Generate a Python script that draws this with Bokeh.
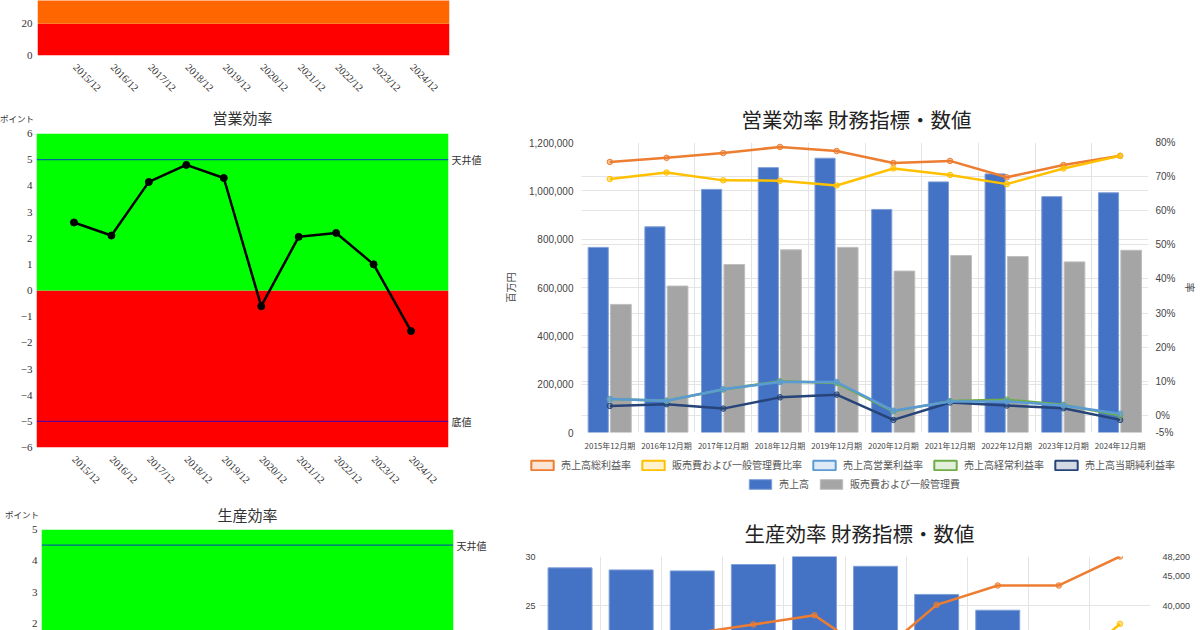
import math
from bokeh.plotting import figure
from bokeh.models import (FactorRange, Range1d, LinearAxis, FixedTicker, SingleIntervalTicker,
                          BoxAnnotation, Span, Legend, LegendItem, NumeralTickFormatter,
                          PrintfTickFormatter, ColumnDataSource, Grid, Div)
from bokeh.transform import dodge
from bokeh.layouts import row, column
from bokeh.embed import file_html
from bokeh.resources import INLINE

# ---------------- data ----------------
years = ["2015/12", "2016/12", "2017/12", "2018/12", "2019/12",
         "2020/12", "2021/12", "2022/12", "2023/12", "2024/12"]
periods = ["2015年12月期", "2016年12月期", "2017年12月期", "2018年12月期", "2019年12月期",
           "2020年12月期", "2021年12月期", "2022年12月期", "2023年12月期", "2024年12月期"]

# top chart (scrolled mostly out of view)
top_zone_edges = [0, 20, 40]
top_zone_colors = ["#FF0000", "#FF6600"]
top_ticks = [0, 20]

# 営業効率
sales_eff_points = [2.6, 2.1, 4.15, 4.8, 4.3, -0.6, 2.05, 2.2, 1.0, -1.55]
sales_eff_ticks = [-6, -5, -4, -3, -2, -1, 0, 1, 2, 3, 4, 5, 6]
sales_eff_zone_edges = [-6, 0, 6]
sales_eff_zone_colors = ["#FF0000", "#00FF00"]
sales_eff_refs = [5, -5]
sales_eff_ref_names = ["天井値", "底値"]

# 生産効率
prod_eff_ticks = [2, 3, 4, 5]
prod_eff_zone_edges = [0, 5]
prod_eff_zone_colors = ["#00FF00"]
prod_eff_refs = [4.5]
prod_eff_ref_names = ["天井値"]

# 営業効率 財務指標・数値 (百万円 / %)
sales = [766000, 851000, 1006000, 1096000, 1135000, 923000, 1037000, 1070000, 976000, 992000]
sga = [530000, 606000, 695000, 756000, 766000, 668000, 732000, 728000, 706000, 754000]
gross_margin = [74.3, 75.5, 76.9, 78.7, 77.5, 74.0, 74.6, 69.8, 73.4, 76.1]
sga_ratio = [69.3, 71.2, 68.9, 68.8, 67.4, 72.4, 70.5, 67.8, 72.4, 76.1]
op_margin = [4.8, 4.3, 7.7, 9.8, 9.8, 1.4, 4.1, 4.1, 2.9, 0.5]
ord_margin = [4.8, 4.3, 7.6, 10.0, 9.5, 1.2, 4.2, 4.6, 3.1, 0.0]
net_margin = [2.8, 3.3, 2.0, 5.3, 6.1, -1.3, 3.8, 2.9, 2.1, -1.3]
amount_interval = 200000
pct_ticks = [-5, 0, 10, 20, 30, 40, 50, 60, 70, 80]

# 生産効率 財務指標・数値
prod_bars = [28.84, 28.63, 28.53, 29.18, 30.0, 29.0, 26.13, 24.52, 22.2, 21.6]
prod_line1 = [34800, 35100, 35370, 36870, 38420, 31500, 40140, 43370, 43370, 48200]
prod_line2 = [27500, 27800, 28300, 28900, 29400, 26500, 28600, 29800, 28100, 36980]
prod_left_ticks = [20, 25, 30]
prod_right_ticks = [35000, 40000, 45000, 48200]

JP = "Noto Sans CJK JP"
SERIF = "Liberation Serif"
SANS = "Liberation Sans"
NAN = float("nan")


def base_fig(width, height, x_range, y_range, bl, br, bt, bb, **kw):
    p = figure(width=width, height=height, x_range=x_range, y_range=y_range,
               output_backend="svg", toolbar_location=None, frame_align=False,
               min_border_left=bl, min_border_right=br, min_border_top=bt, min_border_bottom=bb,
               **kw)
    p.outline_line_color = None
    return p


def style_axis(axes, font, size, color="#333", standoff=4):
    for ax in axes:
        ax.axis_line_color = None
        ax.major_tick_line_color = None
        ax.minor_tick_line_color = None
        ax.major_tick_out = 0
        ax.major_tick_in = 0
        ax.minor_tick_out = 0
        ax.major_label_text_font = font
        ax.major_label_text_font_size = size
        ax.major_label_text_color = color
        ax.major_label_standoff = standoff


def add_zones(p, edges, colors):
    for lo, hi, c in zip(edges[:-1], edges[1:], colors):
        p.add_layout(BoxAnnotation(bottom=lo, top=hi, fill_color=c, fill_alpha=1,
                                   line_color=None, level="underlay"))


def add_refs(p, refs, names):
    for v in refs:
        p.add_layout(Span(location=v, dimension="width", line_color="#0000FF",
                          line_alpha=0.6, line_width=1.2))
    ax = LinearAxis(ticker=FixedTicker(ticks=refs),
                    major_label_overrides={v: n for v, n in zip(refs, names)})
    p.add_layout(ax, "right")
    style_axis([ax], JP, "10px", "#333", 3)


def point_div(top, left):
    return Div(text="ポイント", width=45, height=14, margin=(top, 0, -(top + 14), left),
               styles={"font-family": JP, "font-size": "8.5px", "color": "#333",
                       "line-height": "14px", "white-space": "nowrap",
                       "position": "relative", "z-index": "5"})


def year_range():
    return FactorRange(*years, range_padding=0.5, range_padding_units="absolute")


def style_title(p, text, size, align, offset, standoff, color="#333", valign="bottom"):
    p.title.text = text
    p.title.align = align
    p.title.offset = offset
    p.title.vertical_align = valign
    p.title.text_font = JP
    p.title.text_font_size = size
    p.title.text_font_style = "normal"
    p.title.text_color = color
    p.title.standoff = standoff


# ---------------- top (partial) chart ----------------
pA = base_fig(500, 102, year_range(), Range1d(0, 34.7), 37, 51, 0, 47)
pA.grid.visible = False
add_zones(pA, top_zone_edges, top_zone_colors)
pA.yaxis.ticker = FixedTicker(ticks=top_ticks)
style_axis(pA.yaxis, SERIF, "11px", "#333", 5)
style_axis(pA.xaxis, SERIF, "10.5px", "#333", 10)
pA.xaxis.major_label_orientation = -math.pi / 4

# ---------------- 営業効率 ----------------
pB = base_fig(500, 398, year_range(), Range1d(sales_eff_zone_edges[0], sales_eff_zone_edges[-1]),
              36, 52, 31, 53)
pB.grid.visible = False
add_zones(pB, sales_eff_zone_edges, sales_eff_zone_colors)
add_refs(pB, sales_eff_refs, sales_eff_ref_names)
pB.line(years, sales_eff_points, line_color="black", line_width=2.5)
pB.scatter(years, sales_eff_points, size=7, color="black")
pB.yaxis[0].ticker = FixedTicker(ticks=sales_eff_ticks)
style_axis([pB.yaxis[0]], SERIF, "11px", "#333", 4)
style_axis(pB.xaxis, SERIF, "10.5px", "#333", 10)
pB.xaxis.major_label_orientation = -math.pi / 4
style_title(pB, "営業効率", "15px", "center", 0, 7, valign="top")

# ---------------- 生産効率 ----------------
pC = base_fig(500, 130, year_range(), Range1d(1.77, prod_eff_zone_edges[-1]), 41, 47, 29, 0)
pC.grid.visible = False
add_zones(pC, prod_eff_zone_edges, prod_eff_zone_colors)
add_refs(pC, prod_eff_refs, prod_eff_ref_names)
pC.yaxis[0].ticker = FixedTicker(ticks=prod_eff_ticks)
style_axis([pC.yaxis[0]], SERIF, "11px", "#333", 4)
pC.xaxis.visible = False
style_title(pC, "生産効率", "15px", "center", 0, 5, valign="top")

# ---------------- 営業効率 財務指標・数値 ----------------
GRID = "#E4E4E4"
src = ColumnDataSource(dict(period=periods, sales=sales, sga=sga, gm=gross_margin,
                            sr=sga_ratio, om=op_margin, orm=ord_margin, nm=net_margin))
pD = base_fig(700, 455, FactorRange(*periods), Range1d(0, 1200000), 78, 47, 142, 23)
pD.extra_y_ranges = {"pct": Range1d(pct_ticks[0], pct_ticks[-1])}
amount_ticker = SingleIntervalTicker(interval=amount_interval, num_minor_ticks=0)
pD.yaxis[0].ticker = amount_ticker
pD.ygrid.ticker = amount_ticker
pD.ygrid.grid_line_color = GRID
pD.xgrid.ticker = FixedTicker(ticks=list(range(len(periods) + 1)))
pD.xgrid.grid_line_color = GRID
pct_ticker = FixedTicker(ticks=pct_ticks)
pD.add_layout(Grid(dimension=1, ticker=pct_ticker, y_range_name="pct", grid_line_color=GRID))

pD.vbar(x=dodge("period", -0.205, range=pD.x_range), top="sales", width=0.355,
        source=src, fill_color="#4472C4", line_color="#7F9FD8", line_width=1)
pD.vbar(x=dodge("period", 0.195, range=pD.x_range), top="sga", width=0.365,
        source=src, fill_color="#A5A5A5", line_color="#BDBDBD", line_width=1)

line_specs = [("gm", "#ED7D31"), ("sr", "#FFC000"), ("nm", "#264478"),
              ("orm", "#70AD47"), ("om", "#5B9BD5")]
for col, c in line_specs:
    pD.line("period", col, source=src, y_range_name="pct", line_color=c, line_width=2.5)
    pD.scatter("period", col, source=src, y_range_name="pct", size=5.5,
               fill_color=c, fill_alpha=0.45, line_color=c, line_width=1)

style_axis(pD.xaxis, JP, "8px", "#444", 7)
style_axis([pD.yaxis[0]], SANS, "10px", "#444", 8)
pD.yaxis[0].formatter = NumeralTickFormatter(format="0,0")
pD.yaxis[0].axis_label = "百万円"
pD.yaxis[0].axis_label_text_font = JP
pD.yaxis[0].axis_label_text_font_size = "10px"
pD.yaxis[0].axis_label_text_font_style = "normal"
pD.yaxis[0].axis_label_text_color = "#444"
pD.yaxis[0].axis_label_standoff = 8
axR = LinearAxis(y_range_name="pct", ticker=pct_ticker, formatter=PrintfTickFormatter(format="%d%%"),
                 axis_label="率", axis_label_text_font=JP, axis_label_text_font_size="10px",
                 axis_label_text_font_style="normal", axis_label_text_color="#444",
                 axis_label_standoff=4)
pD.add_layout(axR, "right")
style_axis([axR], SANS, "10px", "#444", 7)
style_title(pD, "営業効率 財務指標・数値", "20.5px", "left", 160, 18, "#222")

# ---------------- legend strip under 営業効率 財務指標・数値 ----------------
pL = figure(width=700, height=45, x_range=Range1d(0, 1), y_range=Range1d(0, 1),
            x_axis_type=None, y_axis_type=None, output_backend="svg", toolbar_location=None,
            frame_align=False, min_border=0)
pL.outline_line_color = None
legend_lines = [("売上高総利益率", "#ED7D31"), ("販売費および一般管理費比率", "#FFC000"),
                ("売上高営業利益率", "#5B9BD5"), ("売上高経常利益率", "#70AD47"),
                ("売上高当期純利益率", "#264478")]
legend_bars = [("売上高", "#4472C4", "#7F9FD8"), ("販売費および一般管理費", "#A5A5A5", "#BDBDBD")]
items1 = []
for name, c in legend_lines:
    r = pL.quad(left=[NAN], right=[NAN], top=[NAN], bottom=[NAN], fill_color=c, fill_alpha=0.2,
                line_color=c, line_width=2)
    items1.append(LegendItem(label=name, renderers=[r]))
items2 = []
for name, c, lc in legend_bars:
    r = pL.quad(left=[NAN], right=[NAN], top=[NAN], bottom=[NAN], fill_color=c,
                line_color=lc, line_width=1)
    items2.append(LegendItem(label=name, renderers=[r]))
for items, loc in ((items1, (26, 26)), (items2, (244, 7))):
    leg = Legend(items=items, orientation="horizontal", location=loc,
                 glyph_width=28, glyph_height=12, label_standoff=5, spacing=8,
                 padding=2, margin=0, label_height=14, label_text_font=JP,
                 label_text_font_size="10px", label_text_color="#555",
                 border_line_alpha=0, background_fill_alpha=0)
    pL.add_layout(leg, "center")

# ---------------- 生産効率 財務指標・数値 ----------------
srcE = ColumnDataSource(dict(period=periods, bars=prod_bars, l1=prod_line1, l2=prod_line2))
pE = base_fig(700, 130, FactorRange(*periods), Range1d(22.45, prod_left_ticks[-1]), 39, 50, 56, 0)
pE.extra_y_ranges = {"r": Range1d(35870, prod_right_ticks[-1])}
pE.yaxis[0].ticker = FixedTicker(ticks=prod_left_ticks)
pE.ygrid.ticker = FixedTicker(ticks=prod_left_ticks)
pE.ygrid.grid_line_color = GRID
pE.xgrid.ticker = FixedTicker(ticks=list(range(len(periods) + 1)))
pE.xgrid.grid_line_color = GRID
pE.vbar(x="period", top="bars", width=0.72, source=srcE, fill_color="#4472C4",
        line_color="#7F9FD8", line_width=1)
for col, c in (("l1", "#ED7D31"), ("l2", "#FFC000")):
    pE.line("period", col, source=srcE, y_range_name="r", line_color=c, line_width=2.5)
    pE.scatter("period", col, source=srcE, y_range_name="r", size=5.5,
               fill_color=c, fill_alpha=0.45, line_color=c, line_width=1)
pE.xaxis.visible = False
style_axis([pE.yaxis[0]], SANS, "9px", "#444", 4)
axER = LinearAxis(y_range_name="r", ticker=FixedTicker(ticks=prod_right_ticks),
                  formatter=NumeralTickFormatter(format="0,0"))
pE.add_layout(axER, "right")
style_axis([axER], SANS, "9px", "#444", 12)
style_title(pE, "生産効率 財務指標・数値", "20.5px", "left", 205, 18, "#222")

left_col = column(pA, point_div(9, 0), pB, point_div(7, 5), pC)
right_col = column(pD, pL, pE)
layout = row(left_col, right_col)
open("out.html", "w").write(file_html(layout, INLINE))
